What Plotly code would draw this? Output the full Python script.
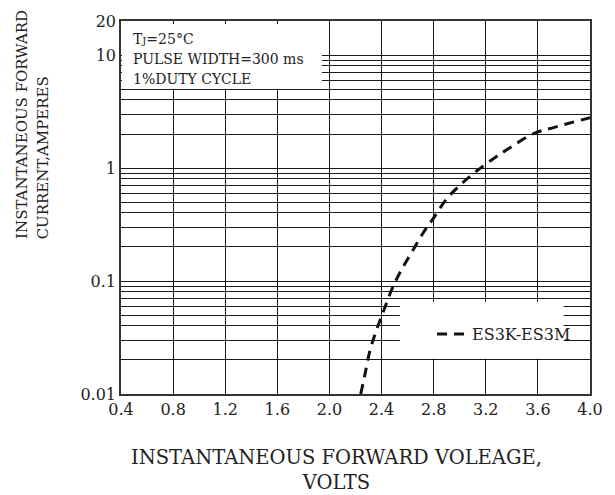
import numpy as np
import plotly.graph_objects as go

# Data
voltage = [2.24, 2.27, 2.31, 2.36, 2.42, 2.48, 2.55, 2.63, 2.72, 2.80, 2.90,
           3.01, 3.13, 3.28, 3.37, 3.56, 3.72, 4.0]
current = [0.010, 0.0144, 0.024, 0.0365, 0.056, 0.085, 0.124, 0.178, 0.267,
           0.362, 0.533, 0.72, 0.94, 1.26, 1.47, 2.0, 2.28, 2.79]
series_name = "ES3K-ES3M"

x_ticks = [0.4, 0.8, 1.2, 1.6, 2.0, 2.4, 2.8, 3.2, 3.6, 4.0]
x_tick_labels = ["0.4", "0.8", "1.2", "1.6", "2.0", "2.4", "2.8", "3.2", "3.6", "4.0"]
y_labeled = {0.01: "0.01", 0.1: "0.1", 1: "1", 10: "10", 20: "20"}

y_ticks = []
for dec in [0.01, 0.1, 1]:
    for k in range(1, 10):
        y_ticks.append(round(k * dec, 4))
y_ticks += [10, 20]
y_tick_labels = [y_labeled.get(v, "") for v in y_ticks]

condition_lines = ["T<span style='font-size:10px'>J</span>=25°C",
                   "PULSE WIDTH=300 ms", "1%DUTY CYCLE"]
x_title = "INSTANTANEOUS FORWARD VOLEAGE,<br>VOLTS"
y_title_lines = ["INSTANTANEOUS FORWARD", "CURRENT,AMPERES"]

FONT = "DejaVu Serif"
TXT = "#222"
ML, MR, MT, MB = 121, 13, 14, 101
PW, PH = 615 - ML - MR, 495 - MT - MB


def px(xp):
    return (xp - ML) / PW


def py(yp):
    return (495 - MB - yp) / PH


fig = go.Figure()
fig.add_trace(go.Scatter(
    x=voltage, y=current, mode="lines", name=series_name,
    line=dict(color="#111", width=3, dash="10px,7px", shape="spline"),
))

annotations = []
for txt, yc in zip(condition_lines, [32, 52.5, 73]):
    annotations.append(dict(
        xref="paper", yref="paper", x=px(131), y=py(yc),
        xanchor="left", yanchor="middle", showarrow=False, text=txt,
        font=dict(size=14, family=FONT, color=TXT)))
annotations.append(dict(
    xref="paper", yref="paper", x=px(342), y=py(471),
    xanchor="center", yanchor="middle", align="center", showarrow=False,
    text=x_title, font=dict(size=19.5, family=FONT, color=TXT)))
for txt, xc in zip(y_title_lines, [20, 41]):
    annotations.append(dict(
        xref="paper", yref="paper", x=px(xc), y=py(238),
        xanchor="center", yanchor="bottom", showarrow=False, text=txt,
        textangle=-90, font=dict(size=15, family=FONT, color=TXT)))

fig.update_layout(
    width=615, height=495,
    margin=dict(l=ML, r=MR, t=MT, b=MB),
    paper_bgcolor="white", plot_bgcolor="white",
    font=dict(family=FONT, color=TXT, size=16),
    showlegend=True,
    legend=dict(
        x=px(440), y=py(333), xanchor="left", yanchor="middle",
        bgcolor="rgba(0,0,0,0)", font=dict(size=16, family=FONT, color=TXT),
        itemwidth=30,
    ),
    xaxis=dict(
        range=[0.4, 4.0], tickvals=x_ticks, ticktext=x_tick_labels,
        showgrid=True, gridcolor="#1a1a1a", gridwidth=1.4,
        showline=True, linecolor="#333", linewidth=1.6, mirror=True,
        ticks="", zeroline=False, tickfont=dict(size=16),
    ),
    yaxis=dict(
        type="log", range=[np.log10(0.01), np.log10(20)],
        tickvals=y_ticks, ticktext=y_tick_labels,
        showgrid=True, gridcolor="#1a1a1a", gridwidth=1.4,
        showline=True, linecolor="#333", linewidth=1.6, mirror=True,
        ticks="", zeroline=False, tickfont=dict(size=16),
    ),
    shapes=[
        dict(type="rect", xref="paper", yref="paper", layer="above",
             x0=px(407), x1=px(575), y0=py(358), y1=py(300),
             fillcolor="white", line=dict(width=0)),
        dict(type="rect", xref="paper", yref="paper", layer="above",
             x0=px(122), x1=px(327), y0=py(83), y1=py(17),
             fillcolor="white", line=dict(width=0)),
    ],
    annotations=annotations,
)

fig.write_html(
    "out.html",
    config={"displayModeBar": False},
    post_script="document.body.style.margin='0';document.body.style.overflow='hidden';",
)
